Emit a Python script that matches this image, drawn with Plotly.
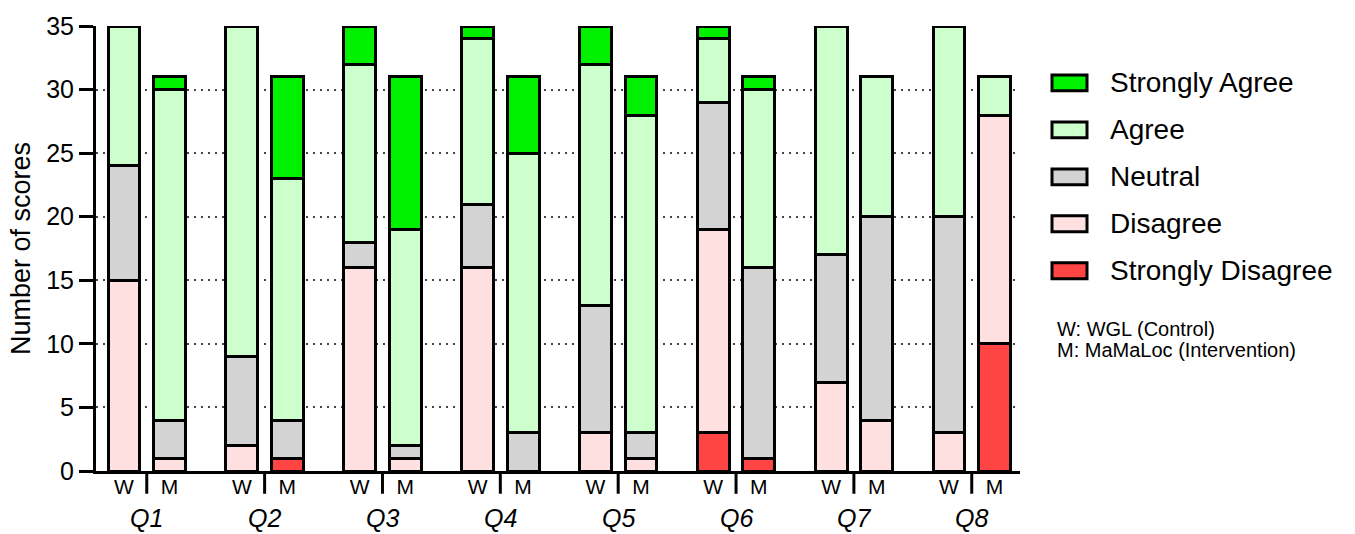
import plotly.graph_objects as go

# ---------------- data ----------------
questions = ["Q1", "Q2", "Q3", "Q4", "Q5", "Q6", "Q7", "Q8"]
groups = ["W", "M"]
categories = ["Strongly Disagree", "Disagree", "Neutral", "Agree", "Strongly Agree"]

# values per question, order: W, M for each question
strongly_disagree = [0, 0,  0, 1,  0, 0,  0, 0,  0, 0,  3, 1,  0, 0,  0, 10]
disagree          = [15, 1, 2, 0,  16, 1, 16, 0, 3, 1,  16, 0, 7, 4,  3, 18]
neutral           = [9, 3,  7, 3,  2, 1,  5, 3,  10, 2, 10, 15, 10, 16, 17, 0]
agree             = [11, 26, 26, 19, 14, 17, 13, 22, 19, 25, 5, 14, 18, 11, 15, 3]
strongly_agree    = [0, 1,  0, 8,  3, 12, 1, 6,  3, 3,  1, 1,  0, 0,  0, 0]

colors = ["#ff4444", "#ffe0e0", "#d3d3d3", "#ccffcc", "#00f000"]
series = [strongly_disagree, disagree, neutral, agree, strongly_agree]

note_lines = ["W: WGL (Control)", "M: MaMaLoc (Intervention)"]

# ---------------- layout helpers ----------------
GROUP_STEP = 2.589   # spacing between question groups (in W-M units)
FONT = "Arial, Liberation Sans, sans-serif"
M_L, M_R, M_T, M_B = 96, 335, 21, 63
PLOT_W = 1355 - M_L - M_R
PLOT_H = 534 - M_T - M_B


def px_x(px):
    return (px - M_L) / PLOT_W


def px_y(py):
    return (534 - M_B - py) / PLOT_H


xpos = []
xlabels = []
for gi, q in enumerate(questions):
    for si, g in enumerate(groups):
        xpos.append(gi * GROUP_STEP + si)
        xlabels.append(g)

fig = go.Figure()
for name, vals, col in zip(categories, series, colors):
    fig.add_trace(go.Bar(
        x=xpos,
        y=[v if v != 0 else None for v in vals],
        name=name,
        width=0.70,
        marker=dict(color=col, line=dict(color="black", width=3)),
        showlegend=False,
    ))

shapes = []
annotations = []

# separators and question labels
for gi, q in enumerate(questions):
    mid = gi * GROUP_STEP + 0.5
    shapes.append(dict(type="line", xref="x", yref="paper", x0=mid, x1=mid,
                       y0=0, y1=px_y(494), line=dict(color="black", width=3)))
    annotations.append(dict(x=mid, xref="x", y=px_y(519), yref="paper",
                            text=f"<i>{q}</i>", showarrow=False,
                            yanchor="middle", xanchor="center",
                            font=dict(family=FONT, size=25, color="black")))

# custom legend (top to bottom: Strongly Agree ... Strongly Disagree)
for i, (name, col) in enumerate(zip(categories[::-1], colors[::-1])):
    cy = 78.5 + 47.5 * i
    shapes.append(dict(type="rect", xref="paper", yref="paper",
                       x0=px_x(1052), x1=px_x(1087),
                       y0=px_y(cy + 8), y1=px_y(cy - 8),
                       fillcolor=col, line=dict(color="black", width=3)))
    annotations.append(dict(x=px_x(1108), xref="paper", y=px_y(cy), yref="paper",
                            text=name, showarrow=False, xanchor="left", yanchor="middle",
                            font=dict(family=FONT, size=28, color="black")))

for j, line in enumerate(note_lines):
    cy = 327 + 22 * j
    annotations.append(dict(x=px_x(1055), xref="paper", y=px_y(cy), yref="paper",
                            text=line, showarrow=False, xanchor="left", yanchor="middle",
                            font=dict(family=FONT, size=20, color="black")))

fig.update_layout(
    barmode="stack",
    width=1355, height=534,
    margin=dict(l=M_L, r=M_R, t=M_T, b=M_B),
    paper_bgcolor="white", plot_bgcolor="white",
    font=dict(family=FONT, color="black"),
    shapes=shapes,
    annotations=annotations,
    xaxis=dict(
        range=[-0.615, 7 * GROUP_STEP + 1 + 0.56],
        tickmode="array", tickvals=xpos, ticktext=xlabels,
        ticks="", tickfont=dict(family=FONT, size=21, color="black"),
        ticklabelstandoff=-5,
        showline=True, linecolor="black", linewidth=3,
        showgrid=False, zeroline=False,
    ),
    yaxis=dict(
        range=[0, 35],
        tickmode="array", tickvals=[0, 5, 10, 15, 20, 25, 30, 35],
        ticks="outside", ticklen=14, tickwidth=3, tickcolor="black",
        tickfont=dict(family=FONT, size=25, color="black"),
        showline=True, linecolor="black", linewidth=3,
        showgrid=True, gridcolor="#444444", gridwidth=2, griddash="2px,5px",
        zeroline=False,
        title=dict(text="Number of scores", font=dict(family=FONT, size=27, color="black"),
                   standoff=8),
    ),
)

fig.write_html("out.html", config={"displayModeBar": False},
               post_script="document.body.style.margin='0px';")
